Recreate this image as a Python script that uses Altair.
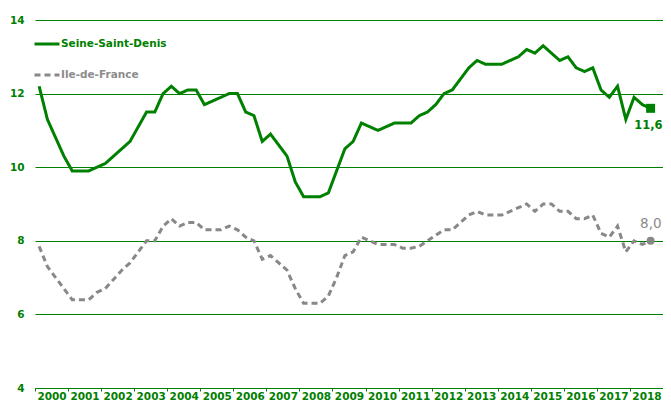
import altair as alt
import pandas as pd

years = list(range(2000, 2019))
series_names = ["Seine-Saint-Denis", "Ile-de-France"]

ssd = [12.2, 11.3, 10.8, 10.3,
       9.9, 9.9, 9.9, 10.0,
       10.1, 10.3, 10.5, 10.7,
       11.1, 11.5, 11.5, 12.0,
       12.2, 12.0, 12.1, 12.1,
       11.7, 11.8, 11.9, 12.0,
       12.0, 11.5, 11.4, 10.7,
       10.9, 10.6, 10.3, 9.6,
       9.2, 9.2, 9.2, 9.3,
       9.9, 10.5, 10.7, 11.2,
       11.1, 11.0, 11.1, 11.2,
       11.2, 11.2, 11.4, 11.5,
       11.7, 12.0, 12.1, 12.4,
       12.7, 12.9, 12.8, 12.8,
       12.8, 12.9, 13.0, 13.2,
       13.1, 13.3, 13.1, 12.9,
       13.0, 12.7, 12.6, 12.7,
       12.1, 11.9, 12.2, 11.3,
       11.9, 11.7, 11.6]

idf = [7.85, 7.3, 7.0, 6.7,
       6.4, 6.4, 6.4, 6.6,
       6.7, 6.95, 7.2, 7.4,
       7.7, 8.0, 8.0, 8.4,
       8.6, 8.4, 8.5, 8.5,
       8.3, 8.3, 8.3, 8.4,
       8.3, 8.1, 8.0, 7.5,
       7.6, 7.4, 7.2, 6.7,
       6.3, 6.3, 6.3, 6.5,
       7.0, 7.6, 7.7, 8.1,
       8.0, 7.9, 7.9, 7.9,
       7.8, 7.8, 7.85, 8.0,
       8.15, 8.3, 8.3, 8.5,
       8.7, 8.8, 8.7, 8.7,
       8.7, 8.8, 8.9, 9.0,
       8.8, 9.0, 9.0, 8.8,
       8.8, 8.6, 8.6, 8.7,
       8.2, 8.1, 8.4, 7.7,
       8.0, 7.9, 8.0]

y_ticks = [4, 6, 8, 10, 12, 14]

GREEN = "#008000"
GRAY = "#888888"
FONT = "DejaVu Sans"

rows = []
for name, vals in zip(series_names, [ssd, idf]):
    n = len(vals)
    for i, v in enumerate(vals):
        yr = 2000 + i // 4
        q = i % 4 + 1
        rows.append({
            "series": name,
            "t": yr + (q - 0.5) / 4,
            "value": v,
            "last": i == n - 1,
            "label": f"{v:.1f}".replace(".", ","),
        })
df = pd.DataFrame(rows)

color_scale = alt.Scale(domain=series_names, range=[GREEN, GRAY])
dash_scale = alt.Scale(domain=series_names, range=[[1, 0], [6, 4]])

legend = alt.Legend(
    title=None, orient="none", legendX=-2, legendY=10,
    symbolType="stroke", symbolSize=625, symbolStrokeWidth=3,
    labelFont=FONT, labelFontSize=10.5, labelFontWeight="bold",
    labelColor=alt.ExprRef(expr=f"datum.label == 'Seine-Saint-Denis' ? '{GREEN}' : '#8c8c8c'"),
    rowPadding=11, labelOffset=0, padding=0,
)

x_axis = alt.Axis(
    title=None, values=years + [2019], format="d",
    labelExpr="datum.value == 2019 ? '' : '' + datum.value",
    labelOffset=16.5, labelFlush=False, labelOverlap=False, labelBound=False,
    labelSeparation=0,
    grid=False, domainColor=GREEN, tickColor=GREEN, tickSize=3,
    labelColor=GREEN, labelFont=FONT, labelFontSize=10.5, labelFontWeight="bold",
    labelPadding=0,
)
y_axis = alt.Axis(
    title=None, values=y_ticks, grid=True, gridColor=GREEN, gridWidth=1,
    domain=False, ticks=False, labelPadding=11,
    labelColor=GREEN, labelFont=FONT, labelFontSize=10.5, labelFontWeight="bold",
)
x_scale = alt.Scale(domain=[2000, 2019], nice=False, zero=False)
y_scale = alt.Scale(domain=[4, 14], nice=False, zero=False)

def X():
    return alt.X("t:Q", scale=x_scale, axis=x_axis)

def Y():
    return alt.Y("value:Q", scale=y_scale, axis=y_axis)

base = alt.Chart(df)

lines = base.mark_line(strokeWidth=3).encode(
    x=X(), y=Y(),
    color=alt.Color("series:N", scale=color_scale, legend=legend),
    strokeDash=alt.StrokeDash("series:N", scale=dash_scale, legend=legend),
    order="t:Q",
)

end_ssd = base.transform_filter(
    "datum.last && datum.series == 'Seine-Saint-Denis'"
).mark_point(filled=True, opacity=1, shape="square", size=81, color=GREEN).encode(x=X(), y=Y())

end_idf = base.transform_filter(
    "datum.last && datum.series == 'Ile-de-France'"
).mark_point(filled=True, opacity=1, shape="circle", size=64, color=GRAY).encode(x=X(), y=Y())

lab_ssd = base.transform_filter("datum.last && datum.series == 'Seine-Saint-Denis'").mark_text(
    font=FONT, fontSize=11.5, fontWeight="bold", color=GREEN, dy=18, dx=12, align="right"
).encode(x=X(), y=Y(), text="label:N")

lab_idf = base.transform_filter("datum.last && datum.series == 'Ile-de-France'").mark_text(
    font=FONT, fontSize=13.5, color="#8a8a8a", dy=-17, dx=11, align="right"
).encode(x=X(), y=Y(), text="label:N")

chart = alt.layer(lines, end_ssd, end_idf, lab_ssd, lab_idf).properties(
    width=628, height=368,
    autosize=alt.AutoSizeParams(type="none"),
    padding={"left": 27, "top": 12, "right": 0, "bottom": 16},
).configure_view(stroke=None)

chart.save("out.html", embed_options={"renderer": "svg", "actions": False})
